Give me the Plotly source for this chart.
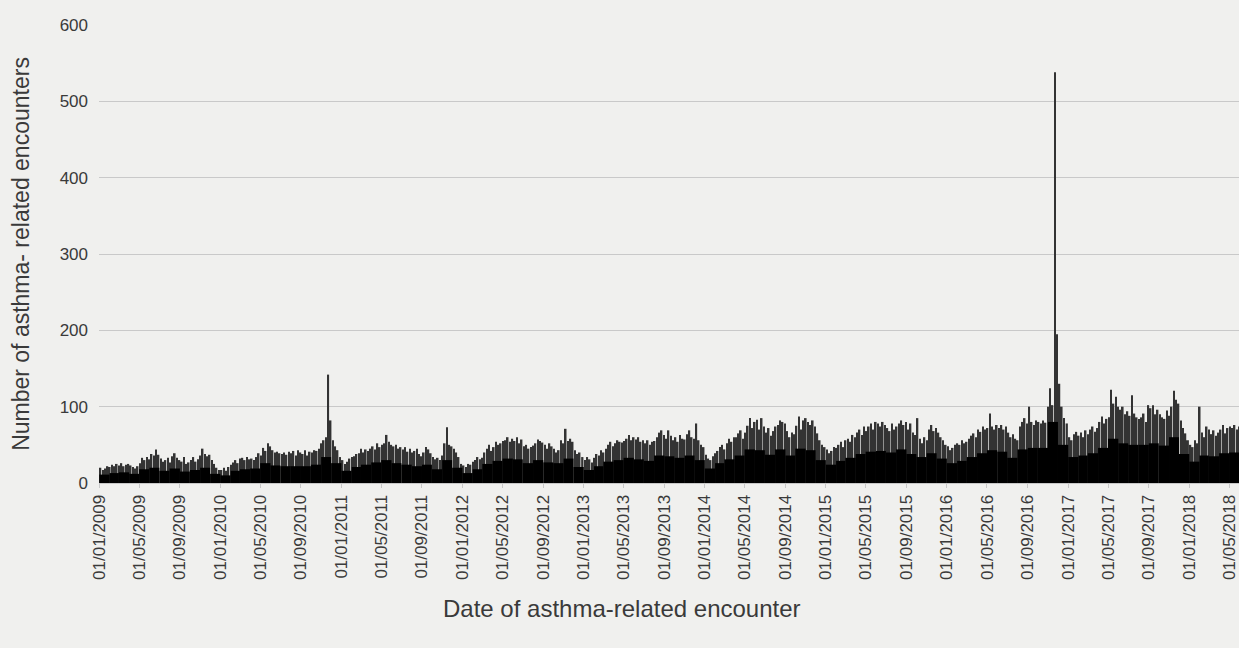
import datetime as dt
import plotly.graph_objects as go

# Weekly peak counts (week k of each year starts on 1 Jan + 7k days)
peaks_2009 = [20, 17, 19, 22, 21, 24, 22, 25, 23, 26, 22, 24, 25, 23, 21, 19, 22, 26, 33, 30, 34, 31,
              38, 36, 44, 37, 32, 28, 30, 33, 27, 35, 39, 33, 30, 28, 34, 25, 27, 30, 34, 28, 31, 36,
              45, 38, 35, 37, 30, 25, 20, 17]
peaks_2010 = [17, 20, 16, 21, 24, 27, 30, 26, 32, 33, 30, 34, 31, 32, 30, 34, 39, 36, 46, 42, 52, 48,
              43, 40, 41, 39, 38, 40, 37, 41, 39, 42, 36, 43, 40, 38, 43, 36, 41, 40, 43, 42, 45, 52,
              56, 60, 142, 82, 56, 48, 43, 34]
peaks_2011 = [30, 25, 28, 32, 34, 35, 38, 39, 45, 40, 44, 42, 45, 48, 44, 52, 47, 50, 52, 63, 54, 50,
              48, 50, 45, 47, 44, 47, 41, 45, 40, 42, 45, 38, 35, 40, 47, 44, 39, 34, 31, 33, 30, 36,
              52, 73, 50, 48, 45, 40, 34, 25]
peaks_2012 = [23, 21, 25, 24, 28, 30, 34, 31, 33, 40, 45, 50, 42, 47, 54, 50, 52, 55, 56, 60, 54, 58,
              55, 60, 52, 57, 48, 50, 45, 47, 49, 52, 57, 55, 53, 50, 45, 52, 48, 45, 40, 43, 56, 52,
              71, 55, 58, 54, 43, 38, 40, 34]
peaks_2013 = [30, 34, 31, 27, 33, 38, 36, 43, 40, 45, 50, 54, 48, 52, 56, 54, 53, 55, 58, 63, 56, 60,
              57, 60, 54, 56, 52, 56, 50, 54, 55, 60, 66, 69, 63, 58, 69, 62, 56, 60, 54, 63, 58, 57,
              64, 69, 60, 58, 78, 56, 50, 47]
peaks_2014 = [37, 32, 30, 35, 39, 42, 47, 50, 44, 52, 58, 54, 60, 60, 65, 69, 58, 66, 75, 85, 72, 80,
              83, 70, 85, 74, 66, 72, 62, 68, 74, 76, 82, 80, 78, 68, 60, 66, 64, 75, 87, 70, 82, 85,
              80, 76, 82, 74, 65, 56, 50, 47]
peaks_2015 = [44, 39, 42, 47, 46, 50, 54, 47, 56, 58, 54, 63, 60, 66, 70, 63, 74, 68, 74, 78, 70, 80,
              78, 74, 80, 76, 72, 68, 78, 70, 74, 78, 82, 76, 80, 70, 78, 66, 63, 85, 58, 52, 60, 56,
              70, 76, 68, 72, 66, 60, 56, 50]
peaks_2016 = [48, 43, 46, 50, 52, 50, 56, 52, 54, 58, 62, 65, 60, 70, 67, 74, 70, 72, 91, 74, 70, 76,
              72, 76, 70, 74, 66, 60, 64, 58, 56, 74, 80, 85, 78, 100, 80, 76, 82, 80, 78, 82, 79, 100,
              124, 102, 538, 195, 130, 100, 85, 78]
peaks_2017 = [60, 56, 64, 67, 62, 66, 60, 69, 64, 70, 74, 67, 72, 80, 87, 78, 84, 86, 122, 104, 113, 100,
              96, 100, 90, 94, 88, 115, 91, 86, 84, 86, 91, 80, 102, 98, 102, 90, 96, 90, 86, 84, 95, 88,
              100, 121, 109, 104, 82, 72, 65, 56]
peaks_2018 = [50, 47, 56, 52, 100, 66, 60, 74, 70, 64, 69, 62, 66, 70, 76, 65, 72, 74, 72, 76, 70, 74]

# Monthly typical (dense, dark) level
body_2009 = [11, 13, 14, 12, 18, 20, 16, 19, 15, 17, 20, 12]
body_2010 = [10, 16, 18, 19, 26, 23, 22, 22, 22, 24, 34, 26]
body_2011 = [16, 21, 24, 27, 30, 26, 24, 22, 24, 18, 30, 20]
body_2012 = [13, 18, 25, 29, 32, 31, 26, 30, 27, 26, 32, 21]
body_2013 = [17, 22, 28, 30, 33, 31, 29, 36, 35, 33, 36, 30]
body_2014 = [19, 26, 31, 36, 44, 43, 37, 44, 36, 45, 43, 30]
body_2015 = [24, 29, 33, 38, 41, 42, 40, 44, 38, 34, 39, 32]
body_2016 = [26, 29, 34, 39, 43, 41, 33, 44, 46, 46, 80, 50]
body_2017 = [34, 36, 39, 46, 58, 52, 50, 50, 52, 49, 60, 38]
body_2018 = [28, 36, 35, 39, 40]

years = list(range(2009, 2019))
peaks_by_year = [peaks_2009, peaks_2010, peaks_2011, peaks_2012, peaks_2013,
                 peaks_2014, peaks_2015, peaks_2016, peaks_2017, peaks_2018]
body_by_year = [body_2009, body_2010, body_2011, body_2012, body_2013,
                body_2014, body_2015, body_2016, body_2017, body_2018]
END = dt.datetime(2018, 6, 1)
DAY_MS = 86400000

wx, wy, ww = [], [], []
for yr, vals in zip(years, peaks_by_year):
    y_end = min(dt.datetime(yr + 1, 1, 1), END)
    for k, v in enumerate(vals):
        s = dt.datetime(yr, 1, 1) + dt.timedelta(days=7 * k)
        e = s + dt.timedelta(days=7)
        if k == len(vals) - 1:
            e = y_end
        e = min(e, y_end)
        wx.append(s + (e - s) / 2)
        wy.append(v)
        ww.append((e - s).total_seconds() * 1000 - 2.2 * DAY_MS)

mx, my, mw = [], [], []
for yr, vals in zip(years, body_by_year):
    for m, v in enumerate(vals):
        s = dt.datetime(yr, m + 1, 1)
        e = dt.datetime(yr + (m == 11), (m + 1) % 12 + 1, 1)
        mx.append(s + (e - s) / 2)
        my.append(v)
        mw.append((e - s).total_seconds() * 1000)

fig = go.Figure()
fig.add_trace(go.Bar(x=wx, y=wy, width=ww, marker=dict(color="#333333", line=dict(width=0)),
                     hoverinfo="x+y"))
fig.add_trace(go.Bar(x=mx, y=my, width=mw, marker=dict(color="#000000", line=dict(width=0)),
                     hoverinfo="x+y"))

font_family = "Liberation Sans, Arial, sans-serif"
fig.update_layout(
    width=1239, height=648,
    barmode="overlay",
    showlegend=False,
    paper_bgcolor="#f0f0ee",
    plot_bgcolor="#f0f0ee",
    margin=dict(l=99, r=0, t=25, b=165),
    font=dict(family=font_family, color="#3a3a3a", size=17),
    xaxis=dict(
        type="date",
        range=["2008-12-31", "2018-05-31"],
        tick0="2009-01-01", dtick="M4", tickformat="%d/%m/%Y",
        tickangle=-90,
        ticks="outside", ticklen=4, tickcolor="#c8c8c8",
        showline=True, linecolor="#c8c8c8", linewidth=1,
        showgrid=False, zeroline=False,
        tickfont=dict(size=17, color="#3a3a3a"),
    ),
    yaxis=dict(
        range=[0, 600], dtick=100,
        showgrid=True, gridcolor="#c9c9c9", gridwidth=1,
        zeroline=False, showline=False, ticks="",
        tickfont=dict(size=17, color="#3a3a3a"),
        ticklabelstandoff=10,
        title=dict(text="Number of asthma- related encounters", font=dict(size=23, color="#3a3a3a"),
                   standoff=23),
    ),
    annotations=[dict(
        text="Date of asthma-related encounter", xref="paper", yref="paper",
        x=(622 - 99) / 1140, y=-(608 - 483) / 458, xanchor="center", yanchor="middle",
        showarrow=False, font=dict(size=24, color="#3a3a3a"),
    )],
)

fig.write_html("out.html", config={"displayModeBar": False},
               post_script="document.body.style.margin='0';document.body.style.background='#f0f0ee';")
